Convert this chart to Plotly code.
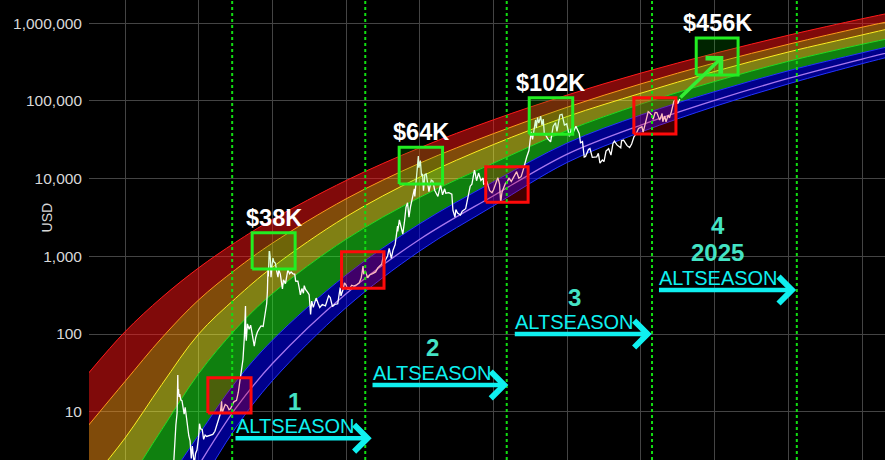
import math
import pandas as pd
import plotly.graph_objects as go

# ---------------- data ----------------
Y_TICKS = [10, 100, 1000, 10000, 100000, 1000000]
Y_TICK_TEXT = ["10", "100", "1,000", "10,000", "100,000", "1,000,000"]

HALVING_DATES = ["2012-11-28", "2016-07-09", "2020-05-11", "2024-04-20", "2028-03-25"]

BAND_DATES = ["2009-01-01", "2010-01-01", "2011-01-01", "2012-01-01", "2013-01-01",
              "2014-01-01", "2016-01-01", "2018-01-01", "2020-01-01", "2022-01-01",
              "2024-01-01", "2026-01-01", "2028-01-01", "2030-01-01", "2031-01-01"]
BAND_RED_TOP = [31.0, 107, 296, 711, 1517, 2979, 9462, 25000, 57300, 119400, 228600, 410200, 701500, 1143000, 1435000]
BAND_ORANGE = [6.61, 24.5, 89.1, 275, 676, 1479, 5495, 15850, 38000, 83200, 166000, 309000, 537000, 891000, 1122000]
BAND_YELLOW = [1.17, 4.57, 22.4, 100, 288, 724, 3236, 10470, 27500, 63100, 126000, 240000, 427000, 708000, 912000]
BAND_GREEN = [0.309, 1.12, 5.89, 30.9, 115, 331, 1660, 5750, 15850, 41700, 91200, 178000, 324000, 537000, 676000]
BAND_BLUE_TOP = [0.0049, 0.107, 0.933, 5.01, 24.0, 83.2, 575, 2630, 9120, 28800, 66100, 132000, 245000, 417000, 537000]
BAND_VIOLET = [0.00098, 0.0302, 0.324, 2.04, 11.0, 41.7, 331, 1660, 6030, 20700, 49000, 102000, 195000, 347000, 452000]
BAND_BLUE_BOTTOM = [0.00031, 0.012, 0.148, 1.05, 6.17, 25.1, 219, 1175, 4470, 16200, 39800, 85100, 166000, 302000, 398000]

PRICE_DATES = [
    "2010-07-18", "2010-09-01", "2010-10-15", "2010-11-07", "2010-12-15",
    "2011-01-15", "2011-02-10", "2011-03-05", "2011-04-01", "2011-04-20", "2011-05-05", "2011-05-20",
    "2011-06-01", "2011-06-08", "2011-06-11", "2011-06-15", "2011-06-20", "2011-06-27", "2011-07-08",
    "2011-07-20", "2011-08-02", "2011-08-10", "2011-08-20", "2011-09-01", "2011-09-12", "2011-09-25",
    "2011-10-08", "2011-10-20", "2011-10-30", "2011-11-18", "2011-12-01", "2011-12-15", "2011-12-31",
    "2012-01-09", "2012-01-20", "2012-02-05", "2012-02-19", "2012-03-05", "2012-03-20", "2012-04-10",
    "2012-05-01", "2012-05-20", "2012-06-10", "2012-06-28", "2012-07-15", "2012-07-31", "2012-08-16",
    "2012-08-20", "2012-09-05", "2012-09-20", "2012-10-10", "2012-10-28", "2012-11-12", "2012-11-28",
    "2012-12-15",
    "2013-01-10", "2013-01-28", "2013-02-12", "2013-02-28", "2013-03-15", "2013-03-28", "2013-04-03",
    "2013-04-09", "2013-04-12", "2013-04-17", "2013-04-28", "2013-05-15", "2013-05-30", "2013-06-15",
    "2013-07-05", "2013-07-20", "2013-08-05", "2013-08-25", "2013-09-10", "2013-10-01", "2013-10-20",
    "2013-11-05", "2013-11-12", "2013-11-18", "2013-11-21", "2013-11-30", "2013-12-04", "2013-12-10",
    "2013-12-18", "2013-12-27",
    "2014-01-06", "2014-01-15", "2014-01-30", "2014-02-12", "2014-02-25", "2014-03-05", "2014-03-20",
    "2014-04-10", "2014-04-20", "2014-05-10", "2014-06-03", "2014-06-20", "2014-07-05", "2014-07-25",
    "2014-08-10", "2014-08-19", "2014-09-10", "2014-09-22", "2014-10-05", "2014-10-20", "2014-11-04",
    "2014-11-12", "2014-11-25", "2014-12-15", "2014-12-31",
    "2015-01-14", "2015-01-25", "2015-02-10", "2015-03-10", "2015-03-31", "2015-04-15", "2015-05-10",
    "2015-06-10", "2015-07-12", "2015-07-28", "2015-08-19", "2015-09-10", "2015-10-10", "2015-11-04",
    "2015-11-11", "2015-12-01", "2015-12-16", "2015-12-31",
    "2016-01-16", "2016-02-01", "2016-02-25", "2016-03-15", "2016-04-15", "2016-05-10", "2016-05-30",
    "2016-06-17", "2016-06-23", "2016-07-09", "2016-08-02", "2016-08-25", "2016-09-20", "2016-10-20",
    "2016-11-10", "2016-12-01", "2016-12-20", "2016-12-31",
    "2017-01-04", "2017-01-11", "2017-01-25", "2017-02-15", "2017-03-03", "2017-03-24", "2017-04-10",
    "2017-05-01", "2017-05-25", "2017-05-27", "2017-06-12", "2017-06-25", "2017-07-16", "2017-08-01",
    "2017-08-17", "2017-09-01", "2017-09-15", "2017-10-01", "2017-10-20", "2017-11-08", "2017-11-12",
    "2017-11-29", "2017-12-07", "2017-12-17", "2017-12-22",
    "2018-01-06", "2018-01-17", "2018-01-28", "2018-02-06", "2018-02-20", "2018-03-05", "2018-03-18",
    "2018-04-01", "2018-04-24", "2018-05-10", "2018-05-28", "2018-06-12", "2018-06-29", "2018-07-25",
    "2018-08-14", "2018-09-04", "2018-09-15", "2018-10-15", "2018-11-14", "2018-11-25", "2018-12-15",
    "2018-12-24",
    "2019-01-10", "2019-02-07", "2019-02-25", "2019-03-31", "2019-04-15", "2019-05-15", "2019-06-01",
    "2019-06-26", "2019-07-03", "2019-07-17", "2019-08-06", "2019-08-29", "2019-09-20", "2019-09-25",
    "2019-10-10", "2019-10-26", "2019-11-24", "2019-12-17",
    "2020-01-01", "2020-02-13", "2020-03-01", "2020-03-12", "2020-03-25", "2020-04-29", "2020-05-10",
    "2020-06-01", "2020-06-25", "2020-07-27", "2020-08-17", "2020-09-08", "2020-10-01", "2020-10-21",
    "2020-11-05", "2020-11-25", "2020-12-17",
    "2021-01-08", "2021-01-22", "2021-02-08", "2021-02-21", "2021-02-28", "2021-03-13", "2021-03-25",
    "2021-04-13", "2021-04-25", "2021-05-08", "2021-05-19", "2021-06-01", "2021-06-22", "2021-07-20",
    "2021-08-14", "2021-09-06", "2021-09-21", "2021-10-20", "2021-11-10", "2021-12-04", "2021-12-27",
    "2022-01-22", "2022-02-10", "2022-02-24", "2022-03-28", "2022-04-30", "2022-05-12", "2022-06-01",
    "2022-06-18", "2022-07-01", "2022-07-30", "2022-08-14", "2022-09-06", "2022-10-20", "2022-11-05",
    "2022-11-21", "2022-12-15", "2022-12-31",
    "2023-01-20", "2023-02-15", "2023-03-10", "2023-03-30", "2023-04-13", "2023-05-11", "2023-06-15",
    "2023-06-23", "2023-07-13", "2023-08-17", "2023-09-11", "2023-10-01", "2023-10-24", "2023-11-15",
    "2023-12-08",
    "2024-01-11", "2024-01-23", "2024-02-15", "2024-03-13", "2024-04-01", "2024-04-20", "2024-05-01",
    "2024-05-21", "2024-06-07", "2024-07-05", "2024-07-29", "2024-08-05", "2024-08-24", "2024-09-06",
    "2024-09-27", "2024-10-10", "2024-10-29", "2024-11-13", "2024-11-22", "2024-12-17", "2024-12-30",
    "2025-01-20",
]
PRICE_USD = [
    0.05, 0.06, 0.10, 0.36, 0.24,
    0.40, 1.05, 0.90, 0.78, 1.40, 3.40, 6.70,
    9.60, 29.6, 17.0, 19.5, 15.5, 16.8, 14.2,
    13.8, 10.8, 9.3, 11.4, 8.2, 5.9, 4.9,
    4.2, 2.5, 3.6, 2.1, 2.9, 3.2, 4.7,
    7.0, 6.0, 5.9, 4.4, 5.0, 4.8, 4.9,
    5.1, 5.1, 5.6, 6.6, 7.6, 9.2, 13.6,
    9.5, 11.0, 12.4, 11.9, 10.6, 11.0, 12.3,
    13.4,
    14.0, 17.8, 24.5, 33.4, 47.0, 88, 130,
    230, 95, 82, 135, 115, 130, 100,
    70, 91, 106, 118, 127, 125, 170,
    245, 350, 700, 550, 1150, 1150, 980,
    540, 750,
    950, 850, 820, 650, 540, 670, 590,
    380, 500, 445, 670, 595, 630, 595,
    590, 480, 478, 400, 320, 385, 335,
    420, 375, 345, 320,
    178, 265, 220, 290, 245, 220, 240,
    230, 310, 295, 225, 240, 245, 400,
    310, 370, 455, 430,
    375, 375, 425, 415, 430, 455, 530,
    750, 590, 650, 530, 580, 600, 630,
    710, 750, 800, 960,
    1130, 780, 900, 1010, 1270, 940, 1200,
    1420, 2450, 2100, 2950, 2500, 1930, 2750,
    4300, 4900, 3200, 4400, 6000, 7400, 5900,
    10000, 16000, 19500, 13800,
    17100, 10900, 11500, 7000, 11300, 11500, 8200,
    6800, 9600, 9300, 7100, 6500, 5900, 8300,
    6200, 7400, 6500, 6600, 6300, 3900, 3200,
    4000,
    3600, 3400, 3800, 4100, 5100, 8000, 8500,
    12900, 11900, 9400, 11800, 9500, 10200, 8500,
    8600, 9300, 7000, 6600,
    7200, 10300, 8500, 4900, 6700, 8800, 8700,
    10200, 9200, 11000, 12300, 10100, 10600, 12900,
    15600, 19000, 23000,
    40000, 32000, 46000, 57000, 45000, 61000, 52000,
    63500, 49000, 58500, 37000, 36500, 32500, 29800,
    47000, 52500, 40500, 66000, 67500, 49000, 50800,
    35000, 44000, 38300, 47300, 38000, 29000, 30000,
    19000, 19300, 23800, 24400, 18800, 19100, 21200,
    15800, 17400, 16550,
    22600, 24300, 20100, 28400, 30400, 27000, 25000,
    30700, 31400, 26600, 25100, 27900, 34500, 37800,
    44200,
    46600, 39500, 52000, 73000, 69700, 64900, 58000,
    71400, 71000, 56700, 69000, 54000, 64000, 53900,
    65800, 60500, 72700, 90000, 99000, 106000, 92000,
    106000,
]

RED_BOX_X0 = ["2012-04-01", "2015-11-17", "2019-10-16", "2023-10-23"]
RED_BOX_X1 = ["2013-06-03", "2017-01-11", "2020-12-09", "2024-12-13"]
RED_BOX_LOW = [9.6, 389, 4966, 37600]
RED_BOX_HIGH = [27.4, 1148, 14260, 110200]

GREEN_BOX_X0 = ["2013-06-14", "2017-06-10", "2020-12-20", "2025-07-02"]
GREEN_BOX_X1 = ["2014-08-14", "2018-08-14", "2022-02-24", "2026-08-21"]
GREEN_BOX_LOW = [687, 8530, 37240, 216000]
GREEN_BOX_HIGH = [2014, 25340, 110200, 647000]
PEAK_LABELS = ["$38K", "$64K", "$102K", "$456K"]

GREEN_ARROW_FROM = ("2025-01-12", 106000)
GREEN_ARROW_TO = ("2026-03-28", 379000)

ALT_START = ["2012-12-16", "2016-09-04", "2020-07-15", "2024-06-13"]
ALT_END = ["2016-09-11", "2020-05-27", "2024-04-17", "2028-03-18"]
ALT_LEVEL = [4.56, 22.1, 100, 368]
ALT_NUMBER = ["1", "2", "3", "4"]
ALT_YEAR = ["", "", "", "2025"]

# ---------------- styling ----------------
FONT = "Liberation Sans, Arial, sans-serif"
GRID = "#444444"
CYAN = "#0ff0f0"
TEAL = "#44e3c4"

fig = go.Figure()

bands = [BAND_RED_TOP, BAND_ORANGE, BAND_YELLOW, BAND_GREEN, BAND_BLUE_TOP, BAND_VIOLET, BAND_BLUE_BOTTOM]
line_colors = ["#ff1a1a", "#ff9a1a", "#ffee22", "#22dd22", "#2233ff", "#a878f0", "#2233ff"]
line_widths = [1, 1, 1, 1, 1, 1.3, 1]
fill_colors = [None, "rgba(255,20,20,0.5)", "rgba(255,150,20,0.5)", "rgba(255,255,40,0.5)",
               "rgba(30,255,30,0.5)", "rgba(0,0,255,0.55)", "rgba(0,0,255,0.55)"]
for vals, lc, lw, fc in zip(bands, line_colors, line_widths, fill_colors):
    fig.add_trace(go.Scatter(
        x=BAND_DATES, y=vals, mode="lines",
        line=dict(color=lc, width=lw, shape="spline", smoothing=1.0),
        fill="tonexty" if fc else "none", fillcolor=fc,
        hoverinfo="skip", showlegend=False))

fig.add_trace(go.Scatter(x=PRICE_DATES, y=PRICE_USD, mode="lines",
                         line=dict(color="white", width=1.3),
                         hoverinfo="skip", showlegend=False))


def box(x0, x1, lo, hi, lc, fc):
    return go.Scatter(x=[x0, x1, x1, x0, x0], y=[lo, lo, hi, hi, lo], mode="lines",
                      fill="toself", fillcolor=fc, line=dict(color=lc, width=3),
                      hoverinfo="skip", showlegend=False)


for i in range(len(RED_BOX_X0)):
    fig.add_trace(box(RED_BOX_X0[i], RED_BOX_X1[i], RED_BOX_LOW[i], RED_BOX_HIGH[i],
                      "#ff0a0a", "rgba(255,0,0,0.25)"))
for i in range(len(GREEN_BOX_X0)):
    fig.add_trace(box(GREEN_BOX_X0[i], GREEN_BOX_X1[i], GREEN_BOX_LOW[i], GREEN_BOX_HIGH[i],
                      "#22ee22", "rgba(0,255,0,0.14)"))

# halving lines
for d in HALVING_DATES:
    fig.add_shape(type="line", xref="x", yref="paper", x0=d, x1=d, y0=0, y1=1,
                  line=dict(color="#11dd11", width=2, dash="dot"))

annotations = []
# peak labels
for i, lab in enumerate(PEAK_LABELS):
    x0 = pd.Timestamp(GREEN_BOX_X0[i])
    x1 = pd.Timestamp(GREEN_BOX_X1[i])
    xc = (x0 + (x1 - x0) / 2).strftime("%Y-%m-%d")
    annotations.append(dict(x=xc, y=math.log10(GREEN_BOX_HIGH[i]), xref="x", yref="y",
                            text="<b>" + lab + "</b>", showarrow=False,
                            xanchor="center", yanchor="bottom", yshift=0,
                            font=dict(family=FONT, size=23.5, color="white")))

# green projection arrow
annotations.append(dict(x=GREEN_ARROW_TO[0], y=math.log10(GREEN_ARROW_TO[1]), xref="x", yref="y",
                        ax=GREEN_ARROW_FROM[0], ay=math.log10(GREEN_ARROW_FROM[1]),
                        axref="x", ayref="y", text="", showarrow=True,
                        arrowhead=4, arrowsize=1.2, arrowwidth=3.5, arrowcolor="#33ee33",
                        standoff=0, startstandoff=0))

# altseason arrows and labels
for i in range(len(ALT_START)):
    ly = math.log10(ALT_LEVEL[i])
    annotations.append(dict(x=ALT_END[i], y=ly, xref="x", yref="y",
                            ax=ALT_START[i], ay=ly, axref="x", ayref="y",
                            text="", showarrow=True, arrowhead=4, arrowsize=1.15,
                            arrowwidth=4.5, arrowcolor=CYAN, standoff=0, startstandoff=0))
    annotations.append(dict(x=ALT_START[i], y=ly, xref="x", yref="y", text="ALTSEASON",
                            showarrow=False, xanchor="left", yanchor="bottom", yshift=-1,
                            font=dict(family=FONT, size=20, color=CYAN)))
    if ALT_YEAR[i]:
        annotations.append(dict(x=ALT_START[i], y=ly, xref="x", yref="y",
                                text="<b>" + ALT_YEAR[i] + "</b>", showarrow=False,
                                xanchor="center", yanchor="middle", xshift=60, yshift=38,
                                font=dict(family=FONT, size=24, color=TEAL)))
        num_shift = 65
    else:
        num_shift = 37
    annotations.append(dict(x=ALT_START[i], y=ly, xref="x", yref="y",
                            text="<b>" + ALT_NUMBER[i] + "</b>", showarrow=False,
                            xanchor="center", yanchor="middle", xshift=61, yshift=num_shift,
                            font=dict(family=FONT, size=24, color=TEAL)))

# axis title
annotations.append(dict(x=-0.053, y=0.527, xref="paper", yref="paper", text="USD",
                        textangle=-90, showarrow=False, xanchor="center", yanchor="middle",
                        font=dict(family=FONT, size=14, color="#d8d8d8")))

fig.update_layout(
    width=885, height=460,
    margin=dict(l=89, r=0, t=0, b=0),
    paper_bgcolor="black", plot_bgcolor="black",
    font=dict(family=FONT, color="#d8d8d8"),
    annotations=annotations,
    showlegend=False,
)
fig.update_xaxes(type="date", range=["2009-01-09", "2030-08-16"], showticklabels=False,
                 showgrid=True, gridcolor=GRID, gridwidth=1, dtick="M24", tick0="2010-01-01",
                 zeroline=False, showline=False, ticks="")
fig.update_yaxes(type="log", range=[0.378, 6.30], tickvals=Y_TICKS, ticktext=Y_TICK_TEXT,
                 showgrid=True, gridcolor=GRID, gridwidth=1, ticks="", ticklabelstandoff=6,
                 tickfont=dict(family=FONT, size=15.5, color="#d8d8d8"),
                 zeroline=False, showline=False)

fig.write_html("out.html", config={"displayModeBar": False},
               post_script="document.body.style.margin='0';document.body.style.overflow='hidden';")
